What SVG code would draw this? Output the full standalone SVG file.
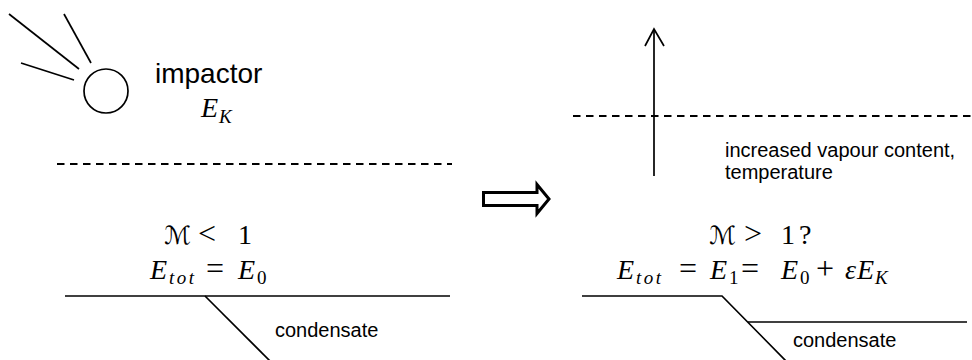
<svg xmlns="http://www.w3.org/2000/svg" width="972" height="360" viewBox="0 0 972 360">
  <style>
    .ln { stroke: #000; stroke-width: 1.7; fill: none; }
    .dash { stroke: #000; stroke-width: 2; fill: none; stroke-dasharray: 7.5 5.5; }
    .lbl { font-family: "Liberation Sans", Arial, sans-serif; fill: #000; }
    .m { font-family: "Liberation Serif", "DejaVu Serif", serif; font-size: 28px; fill: #000; }
    .mi { font-style: italic; }
    .sub { font-size: 19px; }
    .op { font-size: 32px; }
    .scr { font-family: "DejaVu Sans", "DejaVu Serif", serif; font-size: 25px; }
  </style>
  <rect width="972" height="360" fill="#fff"/>

  <g id="impactor">
    <line class="ln" x1="9" y1="14" x2="79" y2="69"/>
    <line class="ln" x1="64" y1="14" x2="91" y2="63"/>
    <line class="ln" x1="21" y1="63" x2="74" y2="80"/>
    <circle class="ln" cx="106" cy="91" r="22"/>
    <text class="lbl" x="155" y="83" font-size="28">impactor</text>
    <text class="m"><tspan class="mi" x="201" y="117">E</tspan><tspan class="mi sub" x="219" y="123">K</tspan></text>
  </g>

  <g id="left-state">
    <line class="dash" x1="57" y1="164" x2="452" y2="164"/>
    <text class="m"><tspan class="scr" x="164" y="244">ℳ</tspan><tspan class="op" x="198" y="244">&lt;</tspan><tspan x="238" y="244">1</tspan></text>
    <text class="m"><tspan class="mi" x="150" y="279">E</tspan><tspan class="mi sub" x="169" y="284" textLength="25" lengthAdjust="spacing">tot</tspan><tspan class="op" x="206" y="279">=</tspan><tspan class="mi" x="238" y="279">E</tspan><tspan class="sub" x="257" y="284">0</tspan></text>
    <polyline class="ln" points="65,296 450,296"/>
    <line class="ln" x1="205" y1="296" x2="270" y2="361"/>
    <text class="lbl" x="275" y="337" font-size="20">condensate</text>
  </g>

  <g id="right-state">
    <line class="dash" x1="573" y1="116" x2="972" y2="116"/>
    <text class="lbl" x="725" y="157" font-size="20">increased vapour content,</text>
    <text class="lbl" x="725" y="179" font-size="20">temperature</text>
    <text class="m"><tspan class="scr" x="709" y="244">ℳ</tspan><tspan class="op" x="744" y="244">&gt;</tspan><tspan x="781" y="244">1</tspan><tspan x="799" y="244">?</tspan></text>
    <text class="m"><tspan class="mi" x="617" y="279">E</tspan><tspan class="mi sub" x="636" y="284" textLength="25" lengthAdjust="spacing">tot</tspan><tspan class="op" x="679" y="279">=</tspan><tspan class="mi" x="710" y="279">E</tspan><tspan class="sub" x="729" y="284">1</tspan><tspan class="op" x="741" y="279">=</tspan><tspan class="mi" x="781" y="279">E</tspan><tspan class="sub" x="800" y="284">0</tspan><tspan class="op" x="816" y="279">+</tspan><tspan class="mi" x="845" y="279">ε</tspan><tspan class="mi" x="857" y="279">E</tspan><tspan class="mi sub" x="875" y="284">K</tspan></text>
    <polyline class="ln" points="582,296 722,296 786,361"/>
    <line class="ln" x1="748" y1="322" x2="967" y2="322"/>
    <text class="lbl" x="793" y="347" font-size="20">condensate</text>
  </g>

  <g id="connectors">
    <polygon points="483.5,192.5 537,192.5 537,184.5 549,199 537,213.5 537,205.5 483.5,205.5" fill="#fff" stroke="#000" stroke-width="3" stroke-linejoin="miter"/>
    <line class="ln" x1="654" y1="176" x2="654" y2="29" stroke-width="2"/>
    <polyline class="ln" points="645,46 654,29 664,46" stroke-width="2"/>
  </g>
</svg>
